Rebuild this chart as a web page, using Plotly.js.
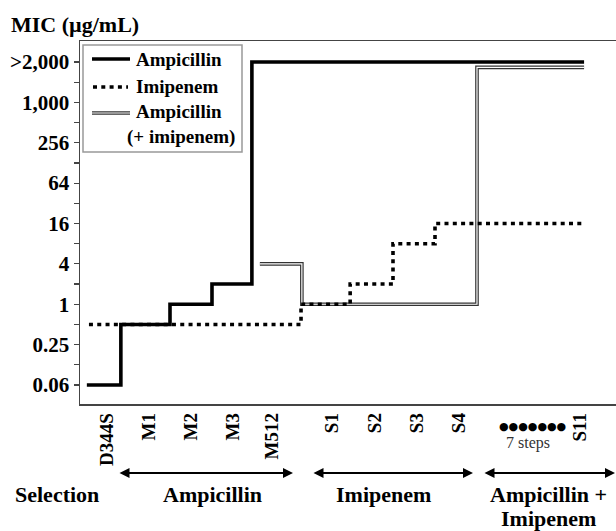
<!DOCTYPE html>
<html>
<head>
<meta charset="utf-8">
<script src="https://cdn.plot.ly/plotly-3.0.1.min.js"></script>
<style>html,body{margin:0;padding:0;background:#fff}#chart{width:616px;height:531px}</style>
</head>
<body>
<div id="chart"></div>
<script>
// Strain labels and their positions along the selection axis
const strains = ['D344S', 'M1', 'M2', 'M3', 'M512', 'S1', 'S2', 'S3', 'S4', 'S11'];
const strainPos = [0, 1, 2, 3, 3.93, 5.36, 6.38, 7.38, 8.38, 11.26];

// MIC step series (x = step breakpoints along the same axis, y = MIC in µg/mL; 4096 = ">2,000")
const ampX = [-0.48, 0.33, 1.5, 2.5, 3.45, 11.36];
const ampY = [0.0625, 0.5, 1, 2, 4096, 4096];
const imiX = [-0.43, 4.62, 5.79, 6.81, 7.81, 11.31];
const imiY = [0.5, 1, 2, 8, 16, 16];
const ampImiX = [3.64, 4.64, 8.81, 11.36];
const ampImiY = [4, 1, 3400, 3400];

// Y tick labels
const yTickVals = [0.0625, 0.25, 1, 4, 16, 64, 256, 1024, 4096];
const yTickText = ['0.06', '0.25', '1', '4', '16', '64', '256', '1,000', '>2,000'];
const yMinorVals = [0.125, 0.5, 2, 8, 32, 128, 512, 2048];

const serif = 'Liberation Serif, Times New Roman, serif';

const traces = [
  {x: ampImiX, y: ampImiY, mode: 'lines', line: {shape: 'hv', color: '#333', width: 3.6}, showlegend: false, hoverinfo: 'skip'},
  {x: ampImiX, y: ampImiY, mode: 'lines', line: {shape: 'hv', color: '#fff', width: 1.2}, showlegend: false, hoverinfo: 'skip'},
  {x: ampX, y: ampY, mode: 'lines', line: {shape: 'hv', color: '#000', width: 3.6}, showlegend: false},
  {x: imiX, y: imiY, mode: 'lines', line: {shape: 'hv', color: '#000', width: 3.6, dash: '4px,4.3px'}, showlegend: false}
];

// helpers: pixel-to-paper for decorations
const L = 80, R = 616, T = 41, B = 404;
const px = v => (v - L) / (R - L);
const py = v => (B - v) / (B - T);

const shapes = [
  // legend box
  {type: 'rect', xref: 'paper', yref: 'paper', x0: px(83), x1: px(242), y0: py(152), y1: py(45), line: {color: '#999', width: 1.5}, fillcolor: '#fff', layer: 'above'},
  {type: 'line', xref: 'paper', yref: 'paper', x0: px(92), x1: px(130), y0: py(59), y1: py(59), line: {color: '#000', width: 3.6}, layer: 'above'},
  {type: 'line', xref: 'paper', yref: 'paper', x0: px(93), x1: px(128), y0: py(87), y1: py(87), line: {color: '#000', width: 3.6, dash: '4px,4.3px'}, layer: 'above'},
  {type: 'line', xref: 'paper', yref: 'paper', x0: px(92), x1: px(130), y0: py(113), y1: py(113), line: {color: '#333', width: 3.6}, layer: 'above'},
  {type: 'line', xref: 'paper', yref: 'paper', x0: px(92), x1: px(130), y0: py(113), y1: py(113), line: {color: '#fff', width: 1.2}, layer: 'above'}
];

function arrow(x0, x1, y) {
  return {xref: 'paper', yref: 'paper', axref: 'paper', ayref: 'paper', x: px(x1), y: py(y), ax: px(x0), ay: py(y),
    text: '', showarrow: true, arrowhead: 2, arrowside: 'end+start', arrowsize: 1, arrowwidth: 2, arrowcolor: '#000'};
}
const bold = {family: serif, size: 22, color: '#000', weight: 700};
const legFont = {family: serif, size: 19, color: '#000', weight: 700};
const annotations = [
  {xref: 'paper', yref: 'paper', x: px(134), y: py(60), xanchor: 'left', yanchor: 'middle', text: 'Ampicillin', showarrow: false, font: legFont},
  {xref: 'paper', yref: 'paper', x: px(134), y: py(87), xanchor: 'left', yanchor: 'middle', text: 'Imipenem', showarrow: false, font: legFont},
  {xref: 'paper', yref: 'paper', x: px(134), y: py(112), xanchor: 'left', yanchor: 'middle', text: 'Ampicillin', showarrow: false, font: legFont},
  {xref: 'paper', yref: 'paper', x: px(125), y: py(137), xanchor: 'left', yanchor: 'middle', text: '(+ imipenem)', showarrow: false, font: legFont},
  {xref: 'paper', yref: 'paper', x: px(532), y: py(426), xanchor: 'center', yanchor: 'middle', text: '●●●●●●●', showarrow: false, font: {family: 'DejaVu Sans', size: 11, color: '#000'}},
  {xref: 'paper', yref: 'paper', x: px(528), y: py(443), xanchor: 'center', yanchor: 'middle', text: '7 steps', showarrow: false, font: {family: serif, size: 16, color: '#333'}},
  arrow(118, 293, 473), arrow(312, 473, 473), arrow(483, 615, 473),
  {xref: 'paper', yref: 'paper', x: px(57), y: py(494), xanchor: 'center', yanchor: 'middle', text: 'Selection', showarrow: false, font: bold},
  {xref: 'paper', yref: 'paper', x: px(212), y: py(494), xanchor: 'center', yanchor: 'middle', text: 'Ampicillin', showarrow: false, font: bold},
  {xref: 'paper', yref: 'paper', x: px(383), y: py(494), xanchor: 'center', yanchor: 'middle', text: 'Imipenem', showarrow: false, font: bold},
  {xref: 'paper', yref: 'paper', x: px(548), y: py(494), xanchor: 'center', yanchor: 'middle', text: 'Ampicillin +', showarrow: false, font: bold},
  {xref: 'paper', yref: 'paper', x: px(548), y: py(518), xanchor: 'center', yanchor: 'middle', text: 'Imipenem', showarrow: false, font: bold}
];

const layout = {
  width: 616, height: 531,
  margin: {l: L, r: 616 - R, t: T, b: 531 - B, pad: 0},
  paper_bgcolor: '#fff', plot_bgcolor: '#fff',
  showlegend: false,
  title: {text: 'MIC (µg/mL)', x: 11 / 616, xanchor: 'left', xref: 'container', y: 1 - 24 / 531, yanchor: 'middle', yref: 'container',
    font: {family: serif, size: 22, color: '#000', weight: 700}},
  xaxis: {
    range: [-0.643, 12.12], tickmode: 'array', tickvals: strainPos, ticktext: strains, tickangle: -90,
    ticks: '', showgrid: false, zeroline: false, showline: true, linecolor: '#444', linewidth: 1.5, mirror: true,
    tickfont: {family: serif, size: 19, color: '#000', weight: 700}
  },
  yaxis: {
    type: 'log', range: [-1.487, 3.925], tickmode: 'array', tickvals: yTickVals, ticktext: yTickText,
    ticks: 'outside', ticklen: 5, tickwidth: 1.2, tickcolor: '#444',
    minor: {tickmode: 'array', tickvals: yMinorVals, ticks: 'outside', ticklen: 5, tickwidth: 1.2, tickcolor: '#444', showgrid: false},
    showgrid: false, zeroline: false, showline: true, linecolor: '#444', linewidth: 1.5,
    tickfont: {family: serif, size: 21, color: '#000', weight: 700}
  },
  shapes: shapes,
  annotations: annotations
};

Plotly.newPlot('chart', traces, layout, {displayModeBar: false, staticPlot: true});
</script>
</body>
</html>
